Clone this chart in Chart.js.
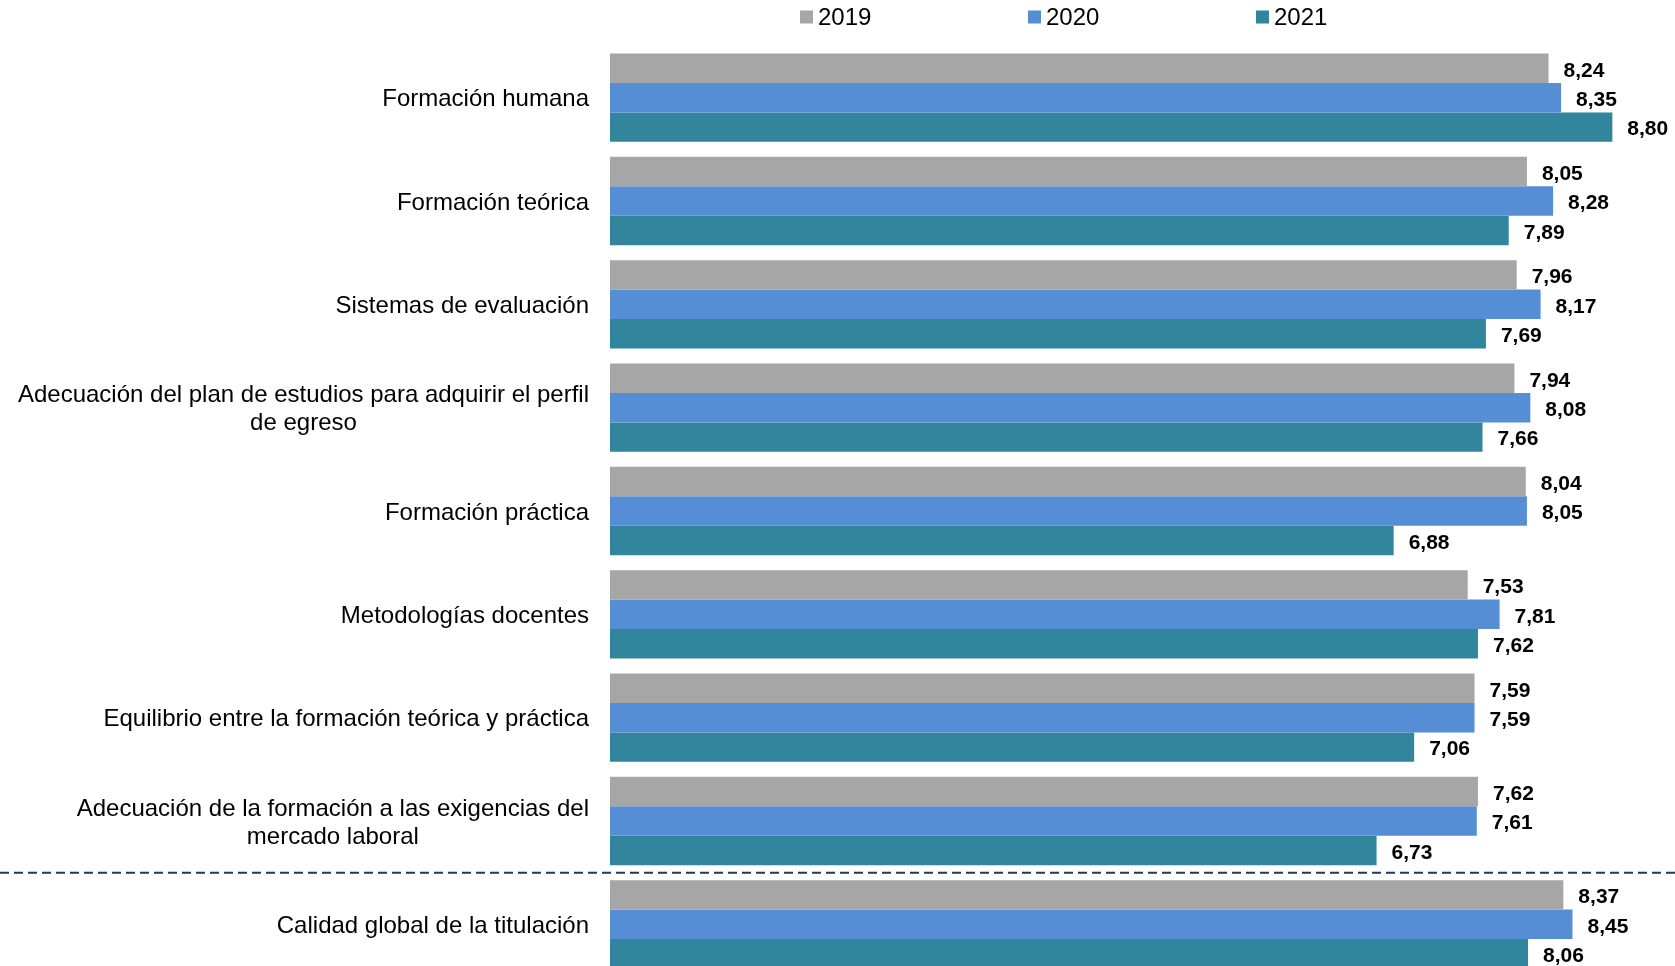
<!DOCTYPE html>
<html>
<head>
<meta charset="utf-8">
<script src="https://cdn.jsdelivr.net/npm/chart.js@4.4.1/dist/chart.umd.min.js"></script>
<style>
  html, body { margin: 0; padding: 0; background: #ffffff; overflow: hidden; }
  canvas { display: block; }
</style>
</head>
<body>
<canvas id="c" width="1675" height="980" style="width:1675px;height:980px;"></canvas>
<script>
const categories = [
  "Formación humana",
  "Formación teórica",
  "Sistemas de evaluación",
  ["Adecuación del plan de estudios para adquirir el perfil", "de egreso"],
  "Formación práctica",
  "Metodologías docentes",
  "Equilibrio entre la formación teórica y práctica",
  ["Adecuación de la formación a las exigencias del", "mercado laboral"],
  "Calidad global de la titulación"
];
const seriesNames = ["2019", "2020", "2021"];
const values2019 = [8.24, 8.05, 7.96, 7.94, 8.04, 7.53, 7.59, 7.62, 8.37];
const values2020 = [8.35, 8.28, 8.17, 8.08, 8.05, 7.81, 7.59, 7.61, 8.45];
const values2021 = [8.80, 7.89, 7.69, 7.66, 6.88, 7.62, 7.06, 6.73, 8.06];
const seriesColors = ["#A6A6A6", "#558ED5", "#31859C"];

const FONT = "'Liberation Sans', Arial, sans-serif";

const valueLabels = {
  id: 'valueLabels',
  afterDatasetsDraw(chart) {
    const ctx = chart.ctx;
    ctx.save();
    ctx.font = "bold 21px " + FONT;
    ctx.fillStyle = "#000000";
    ctx.textAlign = "left";
    ctx.textBaseline = "middle";
    chart.data.datasets.forEach((ds, i) => {
      const meta = chart.getDatasetMeta(i);
      meta.data.forEach((el, j) => {
        const txt = ds.data[j].toFixed(2).replace('.', ',');
        ctx.fillText(txt, el.x + 15, el.y + 2.5);
      });
    });
    ctx.restore();
  }
};

// Category labels: block right-aligned to the axis, lines centred within the block
const categoryLabels = {
  id: 'categoryLabels',
  afterDraw(chart) {
    const ctx = chart.ctx;
    const y = chart.scales.y;
    const right = chart.chartArea.left - 21;
    const lh = 27.8;
    ctx.save();
    ctx.font = "24px " + FONT;
    ctx.fillStyle = "#000000";
    ctx.textAlign = "center";
    ctx.textBaseline = "middle";
    chart.data.labels.forEach((lab, i) => {
      const lines = Array.isArray(lab) ? lab : [lab];
      const w = Math.max(...lines.map(l => ctx.measureText(l).width));
      const cx = right - w / 2;
      const cy = y.getPixelForValue(i) + 2;
      lines.forEach((l, k) => {
        ctx.fillText(l, cx, cy + (k - (lines.length - 1) / 2) * lh);
      });
    });
    ctx.restore();
  }
};

const separator = {
  id: 'separator',
  afterDraw(chart) {
    const y = chart.scales.y;
    const n = chart.data.labels.length;
    const yy = (y.getPixelForValue(n - 2) + y.getPixelForValue(n - 1)) / 2;
    const ctx = chart.ctx;
    ctx.save();
    ctx.strokeStyle = "#1F3A60";
    ctx.lineWidth = 2;
    ctx.setLineDash([9, 5]);
    ctx.beginPath();
    ctx.moveTo(0, yy);
    ctx.lineTo(chart.width, yy);
    ctx.stroke();
    ctx.restore();
  }
};

const customLegend = {
  id: 'customLegend',
  afterDraw(chart) {
    const ctx = chart.ctx;
    const startX = chart.chartArea.left + 190;
    const step = 228;
    const cy = 17;
    ctx.save();
    ctx.font = "24px " + FONT;
    ctx.textBaseline = "middle";
    ctx.textAlign = "left";
    chart.data.datasets.forEach((ds, i) => {
      const x = startX + i * step;
      ctx.fillStyle = ds.backgroundColor;
      ctx.fillRect(x, cy - 6.5, 13, 13);
      ctx.fillStyle = "#000000";
      ctx.fillText(ds.label, x + 18, cy + 1);
    });
    ctx.restore();
  }
};

new Chart(document.getElementById('c'), {
  type: 'bar',
  data: {
    labels: categories,
    datasets: [
      { label: seriesNames[0], data: values2019, backgroundColor: seriesColors[0] },
      { label: seriesNames[1], data: values2020, backgroundColor: seriesColors[1] },
      { label: seriesNames[2], data: values2021, backgroundColor: seriesColors[2] }
    ]
  },
  options: {
    indexAxis: 'y',
    responsive: false,
    maintainAspectRatio: false,
    devicePixelRatio: 1,
    animation: false,
    datasets: {
      bar: { categoryPercentage: 0.855, barPercentage: 1.0, borderWidth: 0 }
    },
    layout: { padding: { top: 46, bottom: 4, left: 0, right: 0 } },
    plugins: {
      legend: { display: false },
      tooltip: { enabled: false },
      title: { display: false }
    },
    scales: {
      x: { display: false, min: 0, max: 9.35 },
      y: {
        grid: { display: false },
        border: { display: false },
        ticks: { display: false },
        afterFit(scale) {
          scale.width = 610;
          scale.paddingTop = 0;
          scale.paddingBottom = 0;
        }
      }
    }
  },
  plugins: [valueLabels, categoryLabels, separator, customLegend]
});
</script>
</body>
</html>
